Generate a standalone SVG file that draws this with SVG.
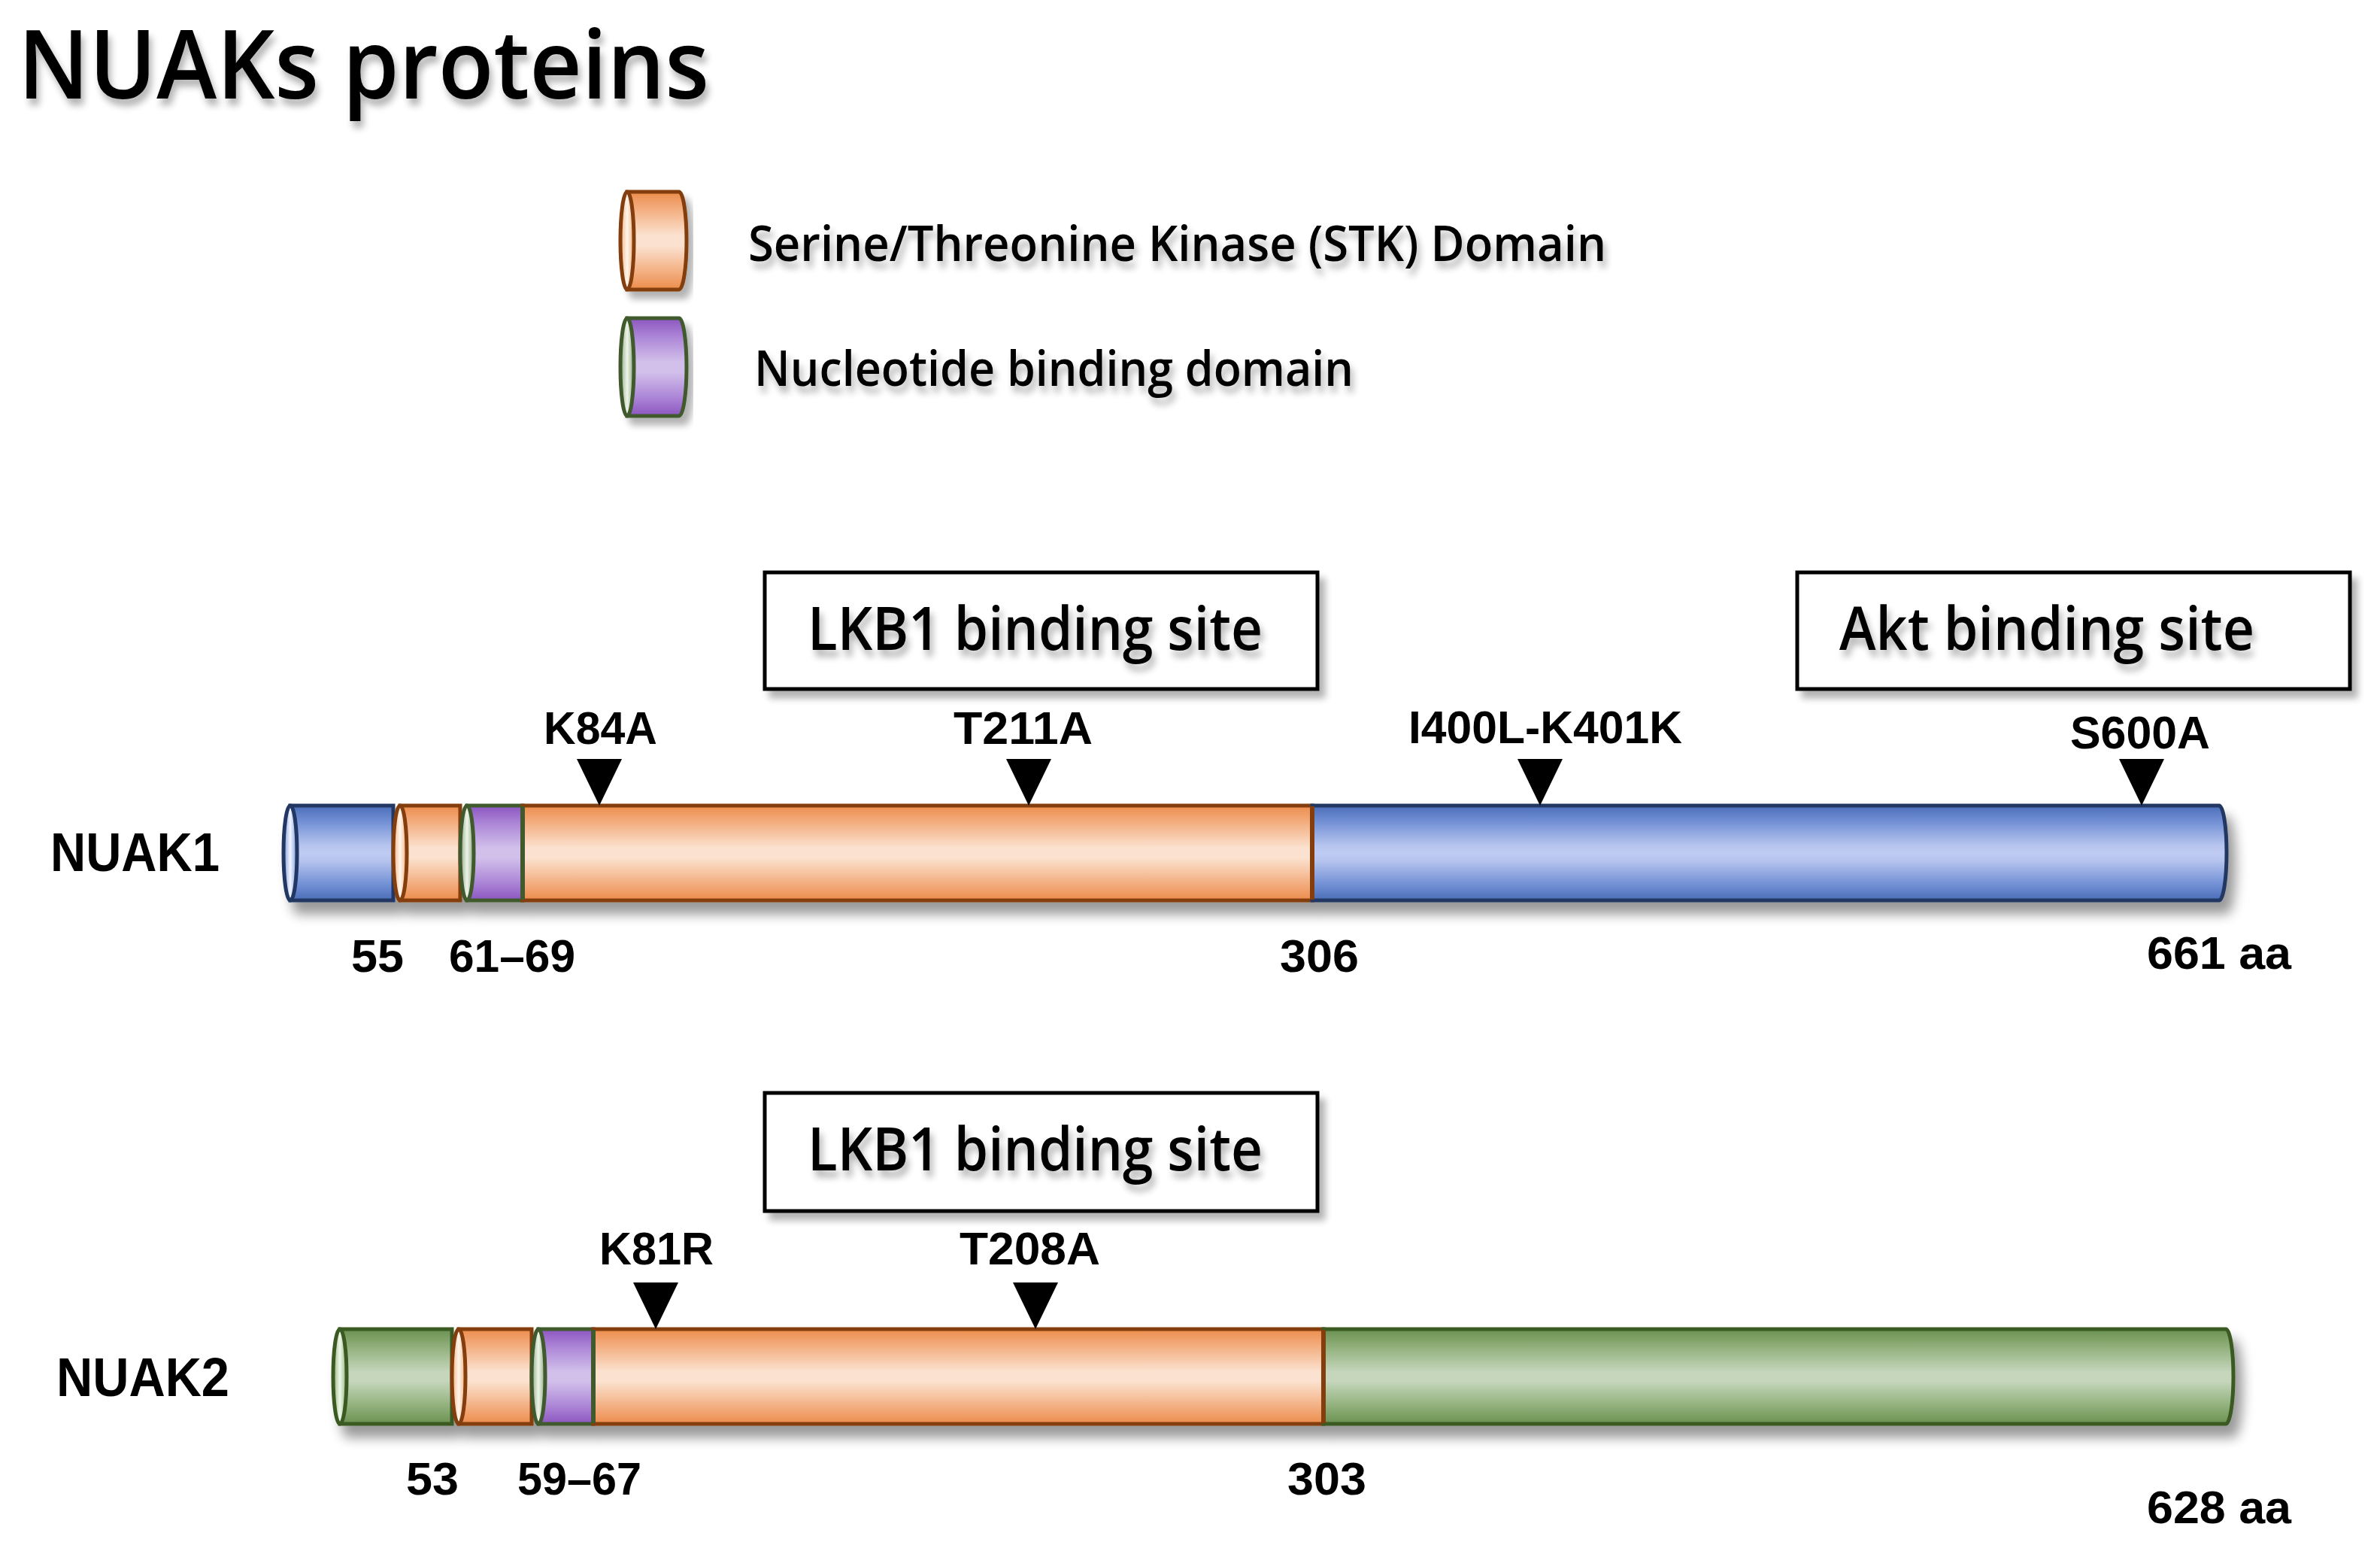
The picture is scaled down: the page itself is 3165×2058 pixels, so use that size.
<svg xmlns="http://www.w3.org/2000/svg" width="3165" height="2058" viewBox="0 0 3165 2058">
<defs>
<linearGradient id="gBlue" x1="0" y1="0" x2="0" y2="1">
<stop offset="0" stop-color="#4A6DB8"/><stop offset="0.18" stop-color="#7592D6"/><stop offset="0.42" stop-color="#B6C4EE"/><stop offset="0.5" stop-color="#BFCBF2"/><stop offset="0.58" stop-color="#B6C4EE"/><stop offset="0.82" stop-color="#7592D6"/><stop offset="1" stop-color="#4A6DB8"/>
</linearGradient>
<linearGradient id="gOrange" x1="0" y1="0" x2="0" y2="1">
<stop offset="0" stop-color="#EC8C4C"/><stop offset="0.18" stop-color="#F3AE80"/><stop offset="0.45" stop-color="#FBE2D0"/><stop offset="0.55" stop-color="#FBE2D0"/><stop offset="0.82" stop-color="#F3AE80"/><stop offset="1" stop-color="#EC8C4C"/>
</linearGradient>
<linearGradient id="gPurple" x1="0" y1="0" x2="0" y2="1">
<stop offset="0" stop-color="#8C56C0"/><stop offset="0.2" stop-color="#AE88D8"/><stop offset="0.45" stop-color="#D2C0EA"/><stop offset="0.55" stop-color="#D2C0EA"/><stop offset="0.8" stop-color="#AE88D8"/><stop offset="1" stop-color="#8C56C0"/>
</linearGradient>
<linearGradient id="gGreen" x1="0" y1="0" x2="0" y2="1">
<stop offset="0" stop-color="#6A9150"/><stop offset="0.2" stop-color="#93B27E"/><stop offset="0.45" stop-color="#C5D6BC"/><stop offset="0.55" stop-color="#C5D6BC"/><stop offset="0.8" stop-color="#93B27E"/><stop offset="1" stop-color="#6A9150"/>
</linearGradient>
<linearGradient id="fBlue" x1="0" y1="0" x2="1" y2="0">
<stop offset="0" stop-color="#7C98DA"/><stop offset="0.5" stop-color="#F2F5FF"/><stop offset="1" stop-color="#7C98DA"/>
</linearGradient>
<linearGradient id="fOrange" x1="0" y1="0" x2="1" y2="0">
<stop offset="0" stop-color="#F2B080"/><stop offset="0.5" stop-color="#FFF6EC"/><stop offset="1" stop-color="#F2B080"/>
</linearGradient>
<linearGradient id="fPurple" x1="0" y1="0" x2="1" y2="0">
<stop offset="0" stop-color="#8FA880"/><stop offset="0.5" stop-color="#EEF5EA"/><stop offset="1" stop-color="#8FA880"/>
</linearGradient>
<linearGradient id="fGreen" x1="0" y1="0" x2="1" y2="0">
<stop offset="0" stop-color="#8FB27A"/><stop offset="0.5" stop-color="#F0F8EA"/><stop offset="1" stop-color="#8FB27A"/>
</linearGradient>
<filter id="barShadow" x="-5%" y="-30%" width="112%" height="190%">
<feGaussianBlur in="SourceAlpha" stdDeviation="8"/><feOffset dx="10" dy="16"/>
<feComponentTransfer><feFuncA type="linear" slope="0.4"/></feComponentTransfer>
<feMerge><feMergeNode/><feMergeNode in="SourceGraphic"/></feMerge>
</filter>
<filter id="txtShadow" x="-5%" y="-20%" width="115%" height="160%">
<feGaussianBlur in="SourceAlpha" stdDeviation="5"/><feOffset dx="4" dy="9"/>
<feComponentTransfer><feFuncA type="linear" slope="0.3"/></feComponentTransfer>
<feMerge><feMergeNode/><feMergeNode in="SourceGraphic"/></feMerge>
</filter>
<filter id="boxShadow" x="-5%" y="-20%" width="115%" height="150%">
<feGaussianBlur in="SourceAlpha" stdDeviation="5"/><feOffset dx="8" dy="10"/>
<feComponentTransfer><feFuncA type="linear" slope="0.3"/></feComponentTransfer>
<feMerge><feMergeNode/><feMergeNode in="SourceGraphic"/></feMerge>
</filter>
<style>
.blue path{fill:url(#gBlue);stroke:#203864}
.blue ellipse{fill:url(#fBlue);stroke:#203864}
.orange path{fill:url(#gOrange);stroke:#843C0C}
.orange ellipse{fill:url(#fOrange);stroke:#843C0C}
.purple path{fill:url(#gPurple);stroke:#3F5A2E}
.purple ellipse{fill:url(#fPurple);stroke:#3F5A2E}
.green path{fill:url(#gGreen);stroke:#3A5A24}
.green ellipse{fill:url(#fGreen);stroke:#3A5A24}
path,ellipse{stroke-width:5}
.edge{fill:none;stroke-width:6}
.cal{font-family:"Open Sans","Lato","Liberation Sans",sans-serif;font-weight:600;fill:#000}
.lab{font-family:"Liberation Sans","Arial",sans-serif;font-weight:bold;fill:#000}
.box{fill:#fff;stroke:#000;stroke-width:5}
.tri{fill:#000}
</style>
</defs>
<rect width="3165" height="2058" fill="#fff"/>

<g id="title">
<text class="cal" x="24" y="131" font-size="127" font-weight="700" textLength="919" lengthAdjust="spacingAndGlyphs" filter="url(#txtShadow)">NUAKs proteins</text>
</g>

<g id="legend-stk">
<g class="orange" filter="url(#boxShadow)">
<path d="M834,255 H903 A10,65 0 0 1 903,385 H834 Z"/>
<ellipse cx="834" cy="320" rx="9" ry="65"/>
</g>
<text class="cal" x="995" y="347" font-size="66" textLength="1141" lengthAdjust="spacingAndGlyphs" filter="url(#txtShadow)">Serine/Threonine Kinase (STK) Domain</text>
</g>

<g id="legend-nbd">
<g class="purple" filter="url(#boxShadow)">
<path d="M834,423 H903 A10,65 0 0 1 903,553 H834 Z"/>
<ellipse cx="834" cy="488" rx="9" ry="65"/>
</g>
<text class="cal" x="1003" y="513" font-size="66" textLength="797" lengthAdjust="spacingAndGlyphs" filter="url(#txtShadow)">Nucleotide binding domain</text>
</g>

<g id="nuak1">
<text class="lab" x="67" y="1158" font-size="73" textLength="225" lengthAdjust="spacingAndGlyphs">NUAK1</text>
<g id="nuak1-bar" filter="url(#barShadow)">
<g class="blue"><path d="M386,1071 H523 V1197 H386 Z"/><ellipse cx="386" cy="1134" rx="9" ry="63"/></g>
<g class="orange"><path d="M532,1071 H612 V1197 H532 Z"/><ellipse cx="532" cy="1134" rx="9" ry="63"/></g>
<g class="purple"><path d="M621,1071 H695 V1197 H621 Z"/><ellipse cx="621" cy="1134" rx="9" ry="63"/></g>
<g class="orange"><path d="M695,1071 H1745 V1197 H695 Z"/></g>
<g class="blue"><path d="M1745,1071 H2951 A10,63 0 0 1 2951,1197 H1745 Z"/></g>
<path class="edge" d="M695,1072 V1196" stroke="#3F5A2E"/>
<path class="edge" d="M1745,1072 V1196" stroke="#843C0C"/>
</g>
<text class="lab" x="467" y="1292" font-size="62" textLength="70" lengthAdjust="spacingAndGlyphs">55</text>
<text class="lab" x="597" y="1292" font-size="62" textLength="168" lengthAdjust="spacingAndGlyphs">61–69</text>
<text class="lab" x="1702" y="1292" font-size="62" textLength="105" lengthAdjust="spacingAndGlyphs">306</text>
<text class="lab" x="2855" y="1288" font-size="62" textLength="192" lengthAdjust="spacingAndGlyphs">661 aa</text>
</g>

<g id="nuak1-lkb1">
<rect class="box" x="1017" y="761" width="735" height="155" filter="url(#boxShadow)"/>
<text class="cal" x="1074" y="864" font-size="80" textLength="605" lengthAdjust="spacingAndGlyphs" filter="url(#txtShadow)">LKB1 binding site</text>
</g>
<g id="nuak1-akt">
<rect class="box" x="2390" y="761" width="735" height="155" filter="url(#boxShadow)"/>
<text class="cal" x="2446" y="864" font-size="80" textLength="552" lengthAdjust="spacingAndGlyphs" filter="url(#txtShadow)">Akt binding site</text>
</g>

<g id="nuak1-mutations">
<text class="lab" x="723" y="989" font-size="62" textLength="151" lengthAdjust="spacingAndGlyphs">K84A</text>
<polygon class="tri" points="767,1009 827,1009 797,1071"/>
<text class="lab" x="1268" y="989" font-size="62" textLength="185" lengthAdjust="spacingAndGlyphs">T211A</text>
<polygon class="tri" points="1338,1009 1398,1009 1368,1071"/>
<text class="lab" x="1873" y="988" font-size="62" textLength="364" lengthAdjust="spacingAndGlyphs">I400L-K401K</text>
<polygon class="tri" points="2018,1009 2078,1009 2048,1071"/>
<text class="lab" x="2753" y="995" font-size="62" textLength="186" lengthAdjust="spacingAndGlyphs">S600A</text>
<polygon class="tri" points="2818,1009 2878,1009 2848,1071"/>
</g>

<g id="nuak2">
<text class="lab" x="75" y="1856" font-size="73" textLength="230" lengthAdjust="spacingAndGlyphs">NUAK2</text>
<g id="nuak2-bar" filter="url(#barShadow)">
<g class="green"><path d="M452,1767 H601 V1893 H452 Z"/><ellipse cx="452" cy="1830" rx="9" ry="63"/></g>
<g class="orange"><path d="M610,1767 H707 V1893 H610 Z"/><ellipse cx="610" cy="1830" rx="9" ry="63"/></g>
<g class="purple"><path d="M716,1767 H789 V1893 H716 Z"/><ellipse cx="716" cy="1830" rx="9" ry="63"/></g>
<g class="orange"><path d="M789,1767 H1760 V1893 H789 Z"/></g>
<g class="green"><path d="M1760,1767 H2960 A10,63 0 0 1 2960,1893 H1760 Z"/></g>
<path class="edge" d="M789,1768 V1892" stroke="#3F5A2E"/>
<path class="edge" d="M1760,1768 V1892" stroke="#843C0C"/>
</g>
<text class="lab" x="540" y="1987" font-size="62" textLength="70" lengthAdjust="spacingAndGlyphs">53</text>
<text class="lab" x="688" y="1987" font-size="62" textLength="165" lengthAdjust="spacingAndGlyphs">59–67</text>
<text class="lab" x="1712" y="1987" font-size="62" textLength="105" lengthAdjust="spacingAndGlyphs">303</text>
<text class="lab" x="2855" y="2025" font-size="62" textLength="192" lengthAdjust="spacingAndGlyphs">628 aa</text>
</g>

<g id="nuak2-lkb1">
<rect class="box" x="1017" y="1453" width="735" height="157" filter="url(#boxShadow)"/>
<text class="cal" x="1074" y="1556" font-size="80" textLength="605" lengthAdjust="spacingAndGlyphs" filter="url(#txtShadow)">LKB1 binding site</text>
</g>

<g id="nuak2-mutations">
<text class="lab" x="797" y="1681" font-size="62" textLength="152" lengthAdjust="spacingAndGlyphs">K81R</text>
<polygon class="tri" points="842,1705 902,1705 872,1767"/>
<text class="lab" x="1276" y="1681" font-size="62" textLength="187" lengthAdjust="spacingAndGlyphs">T208A</text>
<polygon class="tri" points="1347,1705 1407,1705 1377,1767"/>
</g>
</svg>
